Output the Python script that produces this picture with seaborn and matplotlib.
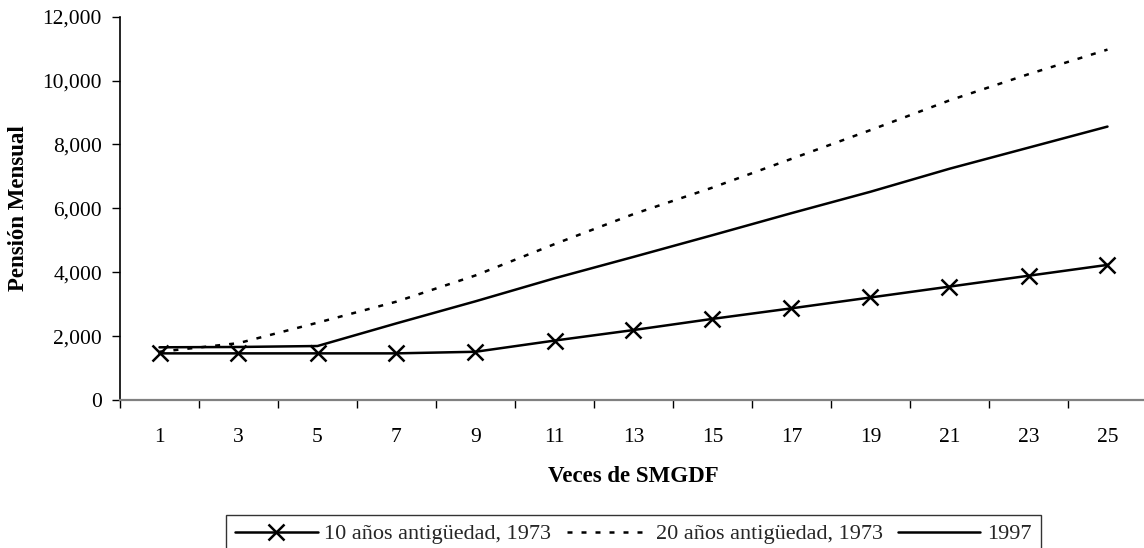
import matplotlib
matplotlib.use("Agg")
import matplotlib.pyplot as plt
from matplotlib.ticker import FixedLocator, StrMethodFormatter, NullFormatter
import seaborn as sns
import pandas as pd

# Multiples of the minimum wage (SMGDF)
veces = [1, 3, 5, 7, 9, 11, 13, 15, 17, 19, 21, 23, 25]

# Monthly pension under each scheme
pension_10_1973 = [1460, 1460, 1460, 1460, 1510, 1860, 2190, 2540, 2870, 3210, 3550, 3890, 4230]
pension_20_1973 = [1510, 1780, 2420, 3080, 3900, 4880, 5820, 6650, 7550, 8450, 9380, 10200, 10970]
pension_1997 = [1650, 1660, 1690, 2400, 3090, 3810, 4480, 5160, 5850, 6520, 7240, 7900, 8560]

labels = ["10 años antigüedad, 1973", "20 años antigüedad, 1973", "1997"]
y_ticks = [0, 2000, 4000, 6000, 8000, 10000, 12000]

sns.set_theme(style="white")
plt.rcParams["font.family"] = ["Liberation Serif", "DejaVu Serif"]

fig = plt.figure(figsize=(11.44, 5.48), dpi=100)
ax = fig.add_axes([120 / 1144, 148 / 548, 1027 / 1144, 383.3 / 548])

df10 = pd.DataFrame({"veces": veces, "pension": pension_10_1973})
df20 = pd.DataFrame({"veces": veces, "pension": pension_20_1973})
df97 = pd.DataFrame({"veces": veces, "pension": pension_1997})

lw = 1.8
sns.lineplot(data=df10, x="veces", y="pension", ax=ax, color="black",
             linewidth=lw, marker="x", markersize=12, markeredgewidth=1.8,
             markeredgecolor="black", label=labels[0])
sns.lineplot(data=df20, x="veces", y="pension", ax=ax, color="black",
             linewidth=lw, linestyle=(0, (2.0, 3.6)), label=labels[1])
sns.lineplot(data=df97, x="veces", y="pension", ax=ax, color="black",
             linewidth=lw, label=labels[2])

ax.set_xlim(0, 26)
ax.set_ylim(0, 12000)

# category labels at odd positions, tick marks on the boundaries between them
ax.xaxis.set_major_locator(FixedLocator(veces))
ax.set_xticklabels([str(v) for v in veces])
ax.xaxis.set_minor_locator(FixedLocator(list(range(0, 27, 2))))
ax.xaxis.set_minor_formatter(NullFormatter())
ax.tick_params(axis="x", which="major", length=0, pad=20, labelsize=15.5, labelcolor="black")
ax.tick_params(axis="x", which="minor", bottom=True, length=6, width=1.0, color="black", direction="out")

ax.yaxis.set_major_locator(FixedLocator(y_ticks))
ax.yaxis.set_major_formatter(StrMethodFormatter("{x:,.0f}"))
ax.tick_params(axis="y", which="major", left=True, length=6, width=1.0, color="black",
               direction="out", pad=7, labelsize=15.5, labelcolor="black")

for side in ("top", "right"):
    ax.spines[side].set_visible(False)
ax.spines["left"].set_color("black")
ax.spines["left"].set_linewidth(1.2)
ax.spines["bottom"].set_color("#808080")
ax.spines["bottom"].set_linewidth(1.6)

ax.set_xlabel("Veces de SMGDF", fontsize=16.5, fontweight="bold", color="black", labelpad=14)
ax.set_ylabel("Pensión Mensual", fontsize=16.5, fontweight="bold", color="black", labelpad=10)
ax.grid(False)

handles, lbls = ax.get_legend_handles_labels()
ax.get_legend().remove()
leg = fig.legend(handles, lbls, loc="upper center", bbox_to_anchor=(633.5 / 1144, 33 / 548),
                 ncol=3, frameon=True, fancybox=False, edgecolor="black", fontsize=16,
                 handlelength=3.7, handletextpad=0.3, columnspacing=0.7, borderaxespad=0,
                 borderpad=0.4)
leg.get_frame().set_linewidth(1.0)

fig.savefig("out.png", dpi=100, facecolor="white")
